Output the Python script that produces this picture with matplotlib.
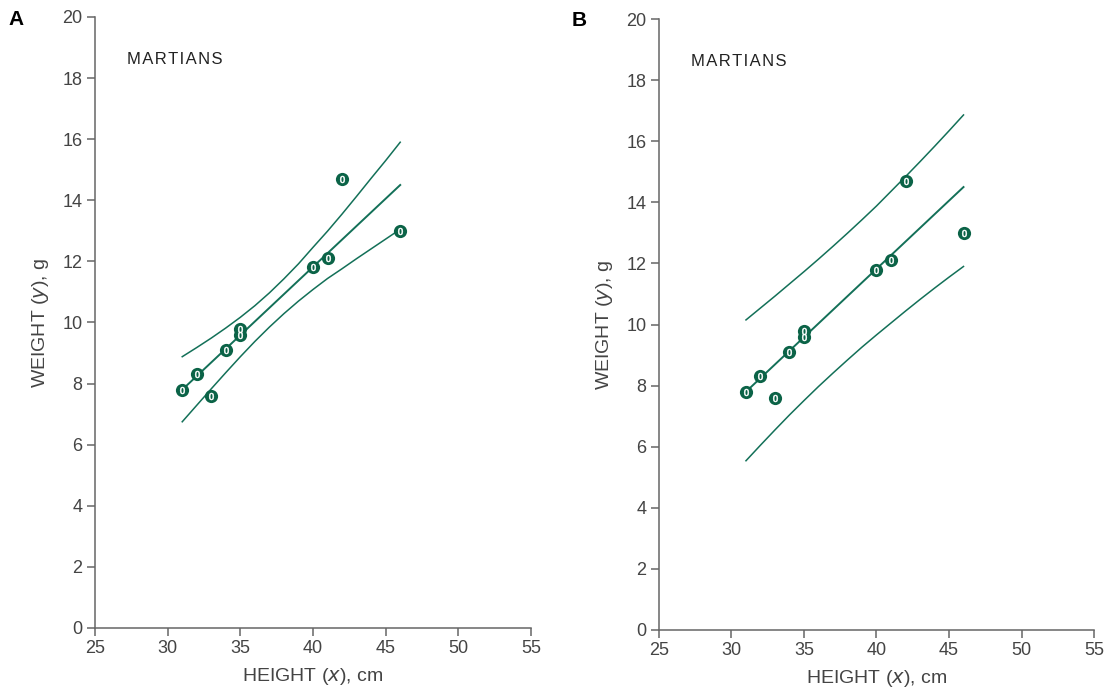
import matplotlib
matplotlib.use("Agg")
import matplotlib.pyplot as plt

plt.rcParams["font.family"] = ["Liberation Sans", "DejaVu Sans"]

# datos de los marcianos (altura cm, peso g)
height = [31, 32, 33, 34, 35, 35, 40, 41, 42, 46]
weight = [7.8, 8.3, 7.6, 9.1, 9.6, 9.8, 11.8, 12.1, 14.7, 13.0]

# recta de regresión
fit_x = [31, 46]
fit_y = [7.8, 14.5]

# abscisas de lectura de las bandas
band_x = [31, 32, 33, 34, 35, 36, 37, 38, 39, 40, 41, 42, 43, 44, 45, 46]

# A: banda de confianza de la media
band_a_up = [8.88, 9.18, 9.49, 9.82, 10.17, 10.55, 10.97, 11.43, 11.92,
             12.46, 12.99, 13.55, 14.13, 14.72, 15.30, 15.90]
band_a_lo = [6.75, 7.29, 7.83, 8.36, 8.88, 9.38, 9.85, 10.29, 10.70,
             11.08, 11.44, 11.76, 12.09, 12.41, 12.73, 13.05]

# B: banda de predicción
band_b_up = [10.15, 10.54, 10.93, 11.33, 11.73, 12.14, 12.56, 12.99, 13.43,
             13.88, 14.36, 14.84, 15.33, 15.83, 16.34, 16.86]
band_b_lo = [5.54, 6.05, 6.55, 7.04, 7.51, 7.97, 8.41, 8.84, 9.26,
             9.66, 10.05, 10.44, 10.82, 11.19, 11.55, 11.90]

GREEN = "#0b6347"
LINE = "#137058"
GREY = "#666666"
TXT = "#444444"

fig = plt.figure(figsize=(11.09, 6.87), dpi=100)
ax_a = fig.add_axes([0.0857, 0.0859, 0.3931, 0.8894])
ax_b = fig.add_axes([0.5942, 0.0830, 0.3923, 0.8893])


def draw_panel(ax, up_y, lo_y):
    ax.plot(band_x, up_y, color=LINE, lw=1.1, solid_joinstyle="round")
    ax.plot(band_x, lo_y, color=LINE, lw=1.1, solid_joinstyle="round")
    ax.plot(fit_x, fit_y, color=LINE, lw=1.4)
    ax.plot(height, weight, "o", ms=9.5, color=GREEN, mec=GREEN, mew=0, zorder=3)
    ax.plot(height, weight, marker="$0$", ls="none", ms=5, color="white",
            mew=0.4, zorder=4)
    ax.set_xlim(25, 55)
    ax.set_ylim(0, 20)
    ax.set_xticks(range(25, 56, 5))
    ax.set_yticks(range(0, 21, 2))
    for s in ("top", "right"):
        ax.spines[s].set_visible(False)
    for s in ("left", "bottom"):
        ax.spines[s].set_color(GREY)
        ax.spines[s].set_linewidth(1.1)
    ax.tick_params(direction="out", length=6, width=1.1, color=GREY,
                   labelsize=13, labelcolor=TXT, pad=3)
    ax.set_xlabel("HEIGHT ($x$), cm", fontsize=14, color=TXT, labelpad=6)
    ax.set_ylabel("WEIGHT ($y$), g", fontsize=14, color=TXT, labelpad=8)
    ax.text(27.2, 18.6, "\u200a".join("MARTIANS"), fontsize=12,
            color="#222222", va="center")
    ax.patch.set_alpha(0)


draw_panel(ax_a, band_a_up, band_a_lo)
draw_panel(ax_b, band_b_up, band_b_lo)

fig.text(0.008, 0.972, "A", fontsize=15, fontweight="bold", va="center")
fig.text(0.515, 0.970, "B", fontsize=15, fontweight="bold", va="center")

fig.savefig("out.png", dpi=100)
